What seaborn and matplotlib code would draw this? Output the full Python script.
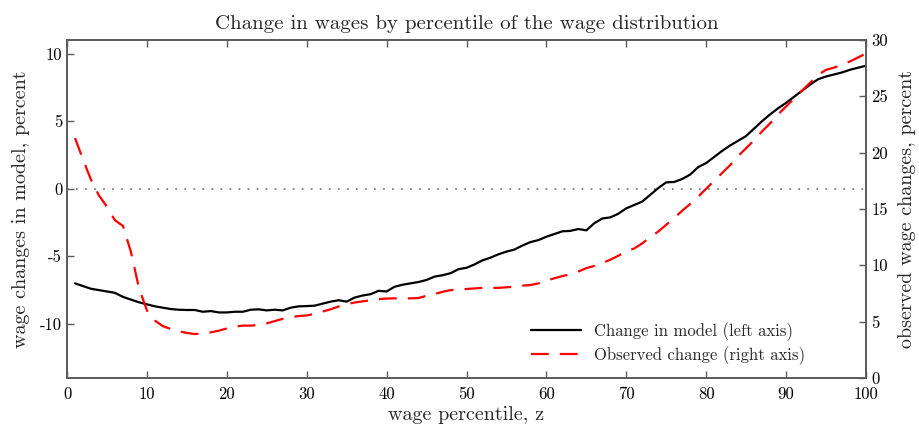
import matplotlib
matplotlib.use("Agg")
import matplotlib.pyplot as plt
import seaborn as sns
import pandas as pd

# wage percentile z = 1..100
percentile = list(range(1, 101))

# change in model wages, percent (left axis)
model_change = [
    -7.0, -7.2, -7.4, -7.5, -7.6, -7.7, -8.0, -8.2, -8.4, -8.55,
    -8.7, -8.8, -8.9, -8.95, -8.97, -8.97, -9.1, -9.05, -9.15, -9.15,
    -9.1, -9.1, -8.95, -8.92, -9.0, -8.95, -9.0, -8.8, -8.7, -8.68,
    -8.65, -8.5, -8.35, -8.25, -8.35, -8.05, -7.9, -7.8, -7.55, -7.6,
    -7.25, -7.1, -7.0, -6.9, -6.75, -6.5, -6.4, -6.25, -5.95, -5.85,
    -5.6, -5.3, -5.1, -4.85, -4.65, -4.5, -4.2, -3.95, -3.8, -3.55,
    -3.35, -3.15, -3.12, -2.98, -3.08, -2.55, -2.2, -2.12, -1.85, -1.45,
    -1.2, -0.95, -0.45, 0.05, 0.47, 0.5, 0.72, 1.05, 1.6, 1.9,
    2.35, 2.8, 3.2, 3.55, 3.9, 4.45, 5.0, 5.5, 5.95, 6.35,
    6.8, 7.25, 7.7, 8.1, 8.3, 8.45, 8.6, 8.8, 8.95, 9.1,
]

# observed wage change, percent (right axis)
observed_change = [
    21.3, 19.4, 17.6, 16.2, 15.2, 14.0, 13.5, 11.2, 8.0, 6.0,
    5.1, 4.6, 4.35, 4.15, 4.0, 3.9, 3.95, 4.05, 4.2, 4.4,
    4.55, 4.65, 4.65, 4.7, 4.85, 5.05, 5.25, 5.4, 5.5, 5.55,
    5.7, 5.9, 6.1, 6.35, 6.55, 6.7, 6.8, 6.9, 7.0, 7.05,
    7.07, 7.07, 7.07, 7.1, 7.3, 7.45, 7.65, 7.8, 7.85, 7.9,
    7.95, 8.0, 8.0, 8.0, 8.05, 8.1, 8.2, 8.25, 8.4, 8.65,
    8.85, 9.05, 9.2, 9.45, 9.75, 9.95, 10.2, 10.5, 10.85, 11.25,
    11.5, 11.95, 12.5, 13.0, 13.6, 14.2, 14.85, 15.45, 16.1, 16.8,
    17.5, 18.2, 18.9, 19.7, 20.4, 21.1, 21.9, 22.6, 23.4, 24.1,
    24.8, 25.5, 26.2, 26.9, 27.35, 27.55, 27.8, 28.1, 28.45, 28.8,
]

left_ticks = [-10, -5, 0, 5, 10]
left_ticklabels = ["-10", "-5", "0", "5", "10"]
right_ticks = [0, 5, 10, 15, 20, 25, 30]
x_ticks = list(range(0, 101, 10))

df = pd.DataFrame({"z": percentile, "model": model_change, "observed": observed_change})

sns.set_style("ticks")
plt.rcParams["font.family"] = ["cmr10", "DejaVu Serif"]
plt.rcParams["mathtext.fontset"] = "cm"
plt.rcParams["axes.unicode_minus"] = False
plt.rcParams["axes.formatter.use_mathtext"] = True

spine_col = "#5a5a5a"

fig = plt.figure(figsize=(9.19, 4.34), dpi=100)
ax = fig.add_axes([67 / 919, 1 - 378 / 434, (866 - 67) / 919, (378 - 40) / 434])
ax2 = ax.twinx()

ax.axhline(0, color="#808080", linestyle=(0, (1, 4)), linewidth=1.3, zorder=1)
sns.lineplot(data=df, x="z", y="model", ax=ax, color="black", linewidth=1.6,
             label="Change in model (left axis)")
sns.lineplot(data=df, x="z", y="observed", ax=ax2, color="red", linewidth=1.6,
             linestyle=(0, (8, 5)), label="Observed change (right axis)")

ax.set_xlim(0, 100)
ax.set_ylim(-14, 11)
ax2.set_ylim(0, 30)
ax.set_xticks(x_ticks)
ax.set_xticklabels([str(t) for t in x_ticks])
ax.set_yticks(left_ticks)
ax.set_yticklabels(left_ticklabels)
ax2.set_yticks(right_ticks)
ax2.set_yticklabels([str(t) for t in right_ticks])

for a in (ax, ax2):
    for s in a.spines.values():
        s.set_visible(True)
        s.set_color(spine_col)
        s.set_linewidth(1.2)
    a.tick_params(direction="in", length=5, width=1.0, color=spine_col,
                  labelsize=12, labelcolor="black")
ax.tick_params(axis="x", top=True, pad=6)
ax.tick_params(axis="y", right=False)
ax2.tick_params(axis="y", right=True, pad=4)

ax.set_title("Change in wages by percentile of the wage distribution", fontsize=15, pad=8)
ax.set_xlabel("wage percentile, z", fontsize=14.5, labelpad=3)
ax.set_ylabel("wage changes in model, percent", fontsize=14.5, labelpad=7)
ax2.set_ylabel("observed wage changes, percent", fontsize=14.5, rotation=90, labelpad=7)

h1, l1 = ax.get_legend_handles_labels()
h2, l2 = ax2.get_legend_handles_labels()
if ax.get_legend() is not None:
    ax.get_legend().remove()
ax2.legend(h1 + h2, l1 + l2, loc="lower right", frameon=False, fontsize=12,
           handlelength=3.0, handletextpad=0.8, labelspacing=0.3,
           borderaxespad=0, bbox_to_anchor=(0.932, 0.02))

fig.savefig("out.png", dpi=100)
